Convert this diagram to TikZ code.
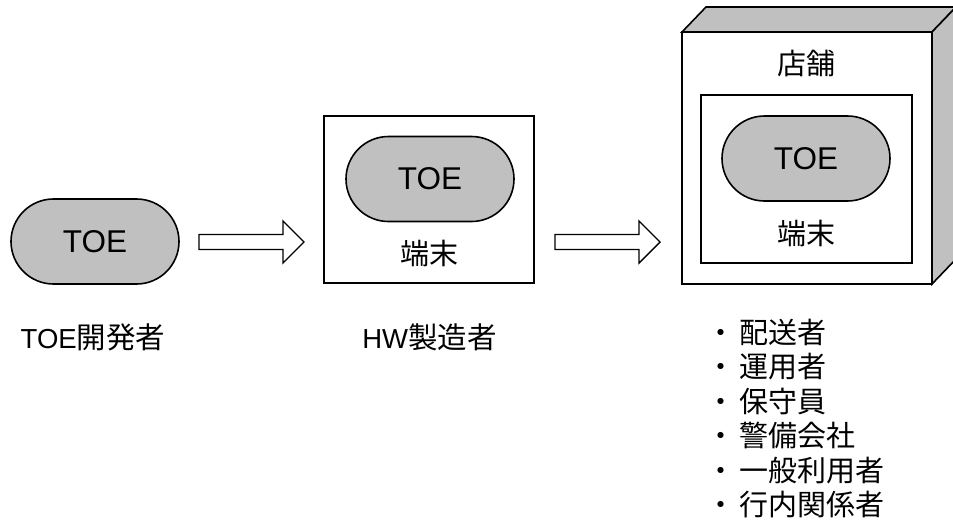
\documentclass[tikz,border=0pt]{standalone}
\usepackage{fontspec}
\setmainfont{Liberation Sans}
\newfontfamily\cjk{Noto Sans CJK JP}
\usetikzlibrary{shapes.misc}
\definecolor{toegray}{HTML}{C0C0C0}
\tikzset{
  pill/.style={rounded rectangle, draw=black, line width=1.6pt, fill=toegray,
    minimum width=168pt, minimum height=85pt, inner sep=0pt,
    font=\fontsize{31.5}{36}\selectfont},
  frame/.style={draw=black, line width=1.6pt, fill=white},
  jp/.style={inner sep=0pt, font=\fontsize{29}{34}\selectfont\cjk},
  lbl/.style={inner sep=0pt, font=\fontsize{27.5}{34}\selectfont},
  blockarrow/.style={draw=black, line width=1.4pt, fill=white, line join=miter}
}
\newcommand{\myarrow}[2]{%
  \draw[blockarrow] (#1,#2-7.5) -- (#1+84,#2-7.5) -- (#1+84,#2-21) -- (#1+105,#2)
    -- (#1+84,#2+21) -- (#1+84,#2+7.5) -- (#1,#2+7.5) -- cycle;}
\newcommand{\jpl}[1]{{\fontsize{29.5}{34}\selectfont\cjk #1}}
\begin{document}
\begin{tikzpicture}[x=1pt,y=-1pt]
\useasboundingbox (0,0) rectangle (953,522);
\clip (0,0) rectangle (953,522);
% stage 1
\node[pill] (toe1) at (95,241.5) {TOE};
\node[lbl] (dev) at (93,337) {TOE\jpl{開発者}};
\myarrow{199}{242}
% stage 2
\node[frame, minimum width=210pt, minimum height=167pt, inner sep=0pt] (term2) at (429,199.5) {};
\node[pill] (toe2) at (430,179) {TOE};
\node[jp] (t2) at (429.5,253) {端末};
\node[lbl] (hw) at (429.5,337) {HW\jpl{製造者}};
\myarrow{555}{242}
% stage 3: 3D box
\draw[line width=1.6pt, fill=toegray, line join=miter] (682,32) -- (706,7) -- (956,7) -- (932,32) -- cycle;
\draw[line width=1.6pt, fill=toegray, line join=miter] (932,32) -- (956,7) -- (956,259) -- (932,284) -- cycle;
\node[frame, minimum width=250pt, minimum height=252pt, inner sep=0pt] (store) at (807,158) {};
\node[jp] (storelbl) at (806,63) {店舗};
\node[frame, minimum width=211pt, minimum height=168pt, inner sep=0pt] (term3) at (806.5,179) {};
\node[pill] (toe3) at (806,158.5) {TOE};
\node[jp] (t3) at (806,233) {端末};
% list
\foreach \t [count=\i from 0] in {配送者,運用者,保守員,警備会社,一般利用者,行内関係者}{
  \node[jp, anchor=west] (li\i) at (706,332+34.6*\i) {・\kern4pt\t};
}
\end{tikzpicture}
\end{document}
